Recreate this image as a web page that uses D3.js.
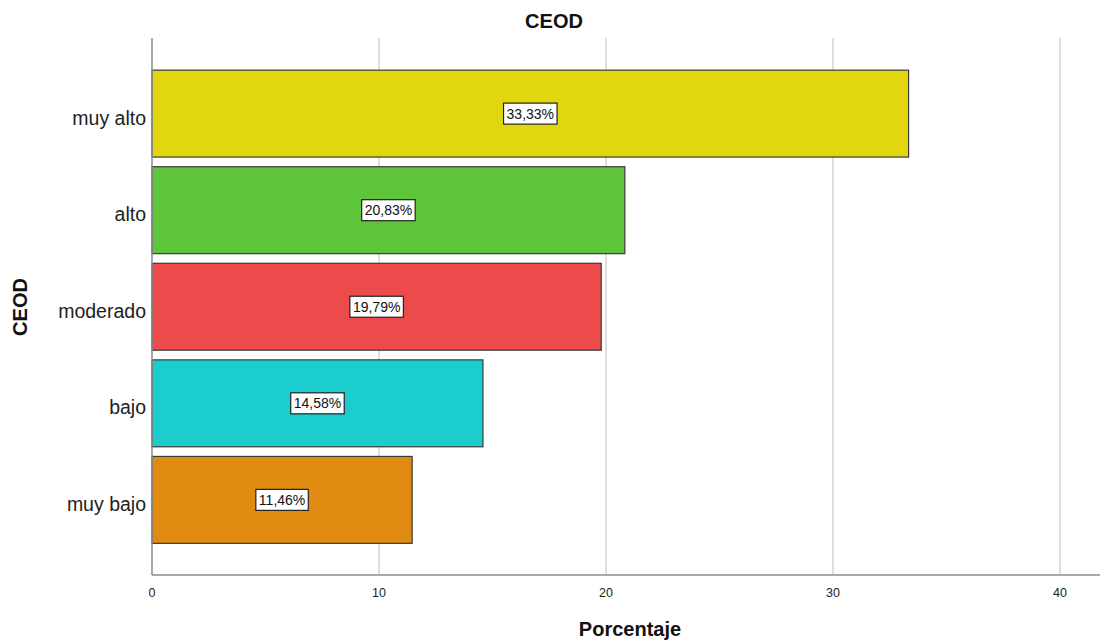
<!DOCTYPE html>
<html>
<head>
<meta charset="utf-8">
<script src="https://cdn.jsdelivr.net/npm/d3@7"></script>
<style>
  body { margin: 0; background: #fff; }
  svg { display: block; font-family: "Liberation Sans", Arial, sans-serif; }
</style>
</head>
<body>
<svg id="chart" width="1104" height="641"></svg>
<script>
// CEOD categories, top to bottom, with their percentages
const categories = ["muy alto", "alto", "moderado", "bajo", "muy bajo"];
const percentages = [33.33, 20.83, 19.79, 14.58, 11.46];
const barColors = ["#e2d70f", "#5ec43a", "#ec4b4b", "#1ccdcd", "#e08a11"];
const xTicks = [0, 10, 20, 30, 40];

const svg = d3.select("#chart");
const plot = { left: 152, right: 1100, top: 38, bottom: 575 };

const x = d3.scaleLinear().domain([0, 40]).range([152, 1060]);
const y = d3.scaleBand()
  .domain(categories)
  .range([60.5, 553])
  .paddingInner(0.1)
  .paddingOuter(0.1);

// vertical gridlines
svg.append("g")
  .selectAll("line")
  .data(xTicks.filter(d => d > 0))
  .join("line")
  .attr("x1", d => x(d)).attr("x2", d => x(d))
  .attr("y1", plot.top).attr("y2", plot.bottom)
  .attr("stroke", "#c8c8c8")
  .attr("stroke-width", 1.2);

// bars
svg.append("g")
  .selectAll("rect")
  .data(categories)
  .join("rect")
  .attr("x", x(0))
  .attr("y", d => y(d))
  .attr("width", (d, i) => x(percentages[i]) - x(0))
  .attr("height", y.bandwidth())
  .attr("fill", (d, i) => barColors[i])
  .attr("stroke", "#3a3a3a")
  .attr("stroke-width", 1.2);

// axis lines
svg.append("line")
  .attr("x1", plot.left).attr("x2", plot.left)
  .attr("y1", plot.top).attr("y2", plot.bottom)
  .attr("stroke", "#8c8c8c").attr("stroke-width", 1.5);
svg.append("line")
  .attr("x1", plot.left).attr("x2", plot.right)
  .attr("y1", plot.bottom).attr("y2", plot.bottom)
  .attr("stroke", "#8c8c8c").attr("stroke-width", 1.5);

// x tick labels
svg.append("g")
  .selectAll("text")
  .data(xTicks)
  .join("text")
  .attr("x", d => x(d))
  .attr("y", 597)
  .attr("text-anchor", "middle")
  .attr("font-size", 12.5)
  .attr("fill", "#222")
  .text(d => d);

// category labels
svg.append("g")
  .selectAll("text")
  .data(categories)
  .join("text")
  .attr("x", 146)
  .attr("y", d => y(d) + y.bandwidth() / 2 + 11)
  .attr("text-anchor", "end")
  .attr("font-size", 19.5)
  .attr("fill", "#222")
  .text(d => d);

// value labels in boxes at the middle of each bar
const fmt = v => v.toFixed(2).replace(".", ",") + "%";
const labels = svg.append("g")
  .selectAll("g")
  .data(categories)
  .join("g")
  .attr("transform", (d, i) => `translate(${x(percentages[i] / 2)},${y(d) + y.bandwidth() / 2})`);
labels.each(function (d, i) {
  const g = d3.select(this);
  const t = g.append("text")
    .attr("text-anchor", "middle")
    .attr("y", 5)
    .attr("font-size", 14)
    .attr("fill", "#111")
    .text(fmt(percentages[i]));
  const bb = t.node().getBBox();
  g.insert("rect", "text")
    .attr("x", bb.x - 3)
    .attr("y", -10.5)
    .attr("width", bb.width + 6)
    .attr("height", 21)
    .attr("fill", "#fff")
    .attr("stroke", "#222")
    .attr("stroke-width", 1.2);
});

// titles
svg.append("text")
  .attr("x", 554).attr("y", 28)
  .attr("text-anchor", "middle")
  .attr("font-size", 20).attr("font-weight", "bold")
  .attr("fill", "#111")
  .text("CEOD");
svg.append("text")
  .attr("x", 630).attr("y", 636)
  .attr("text-anchor", "middle")
  .attr("font-size", 20).attr("font-weight", "bold")
  .attr("fill", "#111")
  .text("Porcentaje");
svg.append("text")
  .attr("transform", "translate(27,307) rotate(-90)")
  .attr("text-anchor", "middle")
  .attr("font-size", 20).attr("font-weight", "bold")
  .attr("fill", "#111")
  .text("CEOD");
</script>
</body>
</html>
